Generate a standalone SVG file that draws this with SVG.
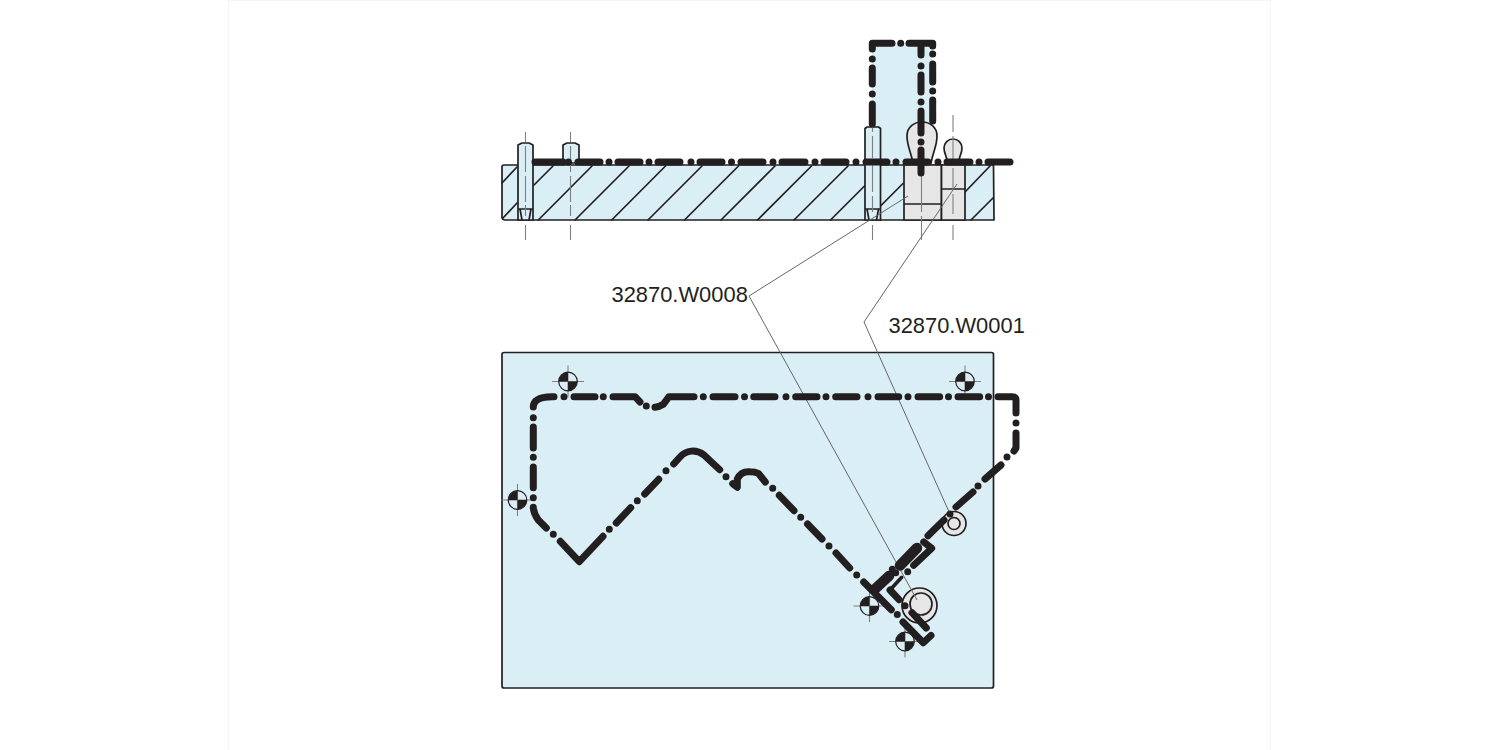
<svg xmlns="http://www.w3.org/2000/svg" width="1500" height="750" viewBox="0 0 1500 750">
<style>
.part{fill:#daeef6;stroke:#231f20;stroke-width:1.7;stroke-linejoin:round}
.grey{fill:#e6e6e6;stroke:#231f20;stroke-width:1.7;stroke-linejoin:round}
.ln{fill:none;stroke:#231f20;stroke-width:1.7}
.hatch{fill:none;stroke:#231f20;stroke-width:1.7;stroke-linecap:round}
.thick{fill:none;stroke:#231f20;stroke-width:7;stroke-linecap:round;stroke-linejoin:round}
.block{fill:none;stroke:#231f20;stroke-width:10.500;stroke-linecap:round}
.thin{fill:none;stroke:#231f20;stroke-width:3.6;stroke-linecap:round;stroke-linejoin:round}
.cl{fill:none;stroke:#808080;stroke-width:1.1}
.lead{fill:none;stroke:#666;stroke-width:1}
.tx{font-family:"Liberation Sans",Arial,sans-serif;font-size:21.9px;fill:#231f20}
</style>
<defs>
<g id="mark">
<path class="cl" d="M-16 0H16M0 -16V16"/>
<circle r="9.300" fill="none" stroke="#231f20" stroke-width="1.200"/>
<path d="M0 0V-9.300A9.300 9.300 0 0 0 -9.300 0ZM0 0V9.300A9.300 9.300 0 0 0 9.300 0Z" fill="#231f20"/>
</g>
</defs>
<rect width="1500" height="750" fill="#fff"/>
<path d="M228.500 0V750M1270.500 0V750M228 .5H1271" fill="none" stroke="#f5f5f5" stroke-width="1"/>

<g id="side-view">
<path style="fill:#daeef6;stroke:none" d="M872 43H932V165H872Z"/>
<path class="part" d="M504 165H993.500L994 220H505Q503 220 502 218V167Q502 165 504 165Z"/>
<path class="hatch" d="M502 183L517 167M503 218L517 203M534 185L553 166M538.300 220L592 166M575 220L629 166M611.700 220L665.500 166M648 220L702 166M684.500 220L738.500 166M721 220L775 166M757.500 220L811.500 166M794 220L848 166M830.500 220L864.500 186M881 205.500L903 183.500M965 192L990 166M971 220L993 198"/>
<path class="part" d="M518 220V145L522 143H529L533 145V220Z"/>
<path class="part" d="M563 163V145L567 143H575L579 145V163Z"/>
<path class="part" d="M865 220V128.500L867 127H878.500L880.500 128.500V220Z"/>
<path class="ln" d="M518 209H533M520 209L522 220M531 209L529 220M865 209H880.500M867 209L869 220M878.500 209L876.500 220"/>
<rect class="grey" x="904" y="165" width="37.500" height="55"/>
<rect class="grey" x="941.500" y="165" width="23.500" height="55"/>
<path class="ln" d="M904 204H941.500M941.500 189H965"/>
<path class="grey" d="M913 163C911 152 907 146 907 136C907 127 914 122 922 122C930 122 937 127 937 136C937 146 933 152 931 163Z"/>
<path class="grey" d="M947 163C948 157 944 155 944 148C944 143 948 139 953 139C958 139 962 143 962 148C962 155 958 157 959 163Z"/>
<path class="cl" d="M525.500 132V142M525.500 146V172M525.500 176V202M525.500 205V216M525.500 225V240M570.500 132V142M570.500 146V172M570.500 176V202M570.500 205V216M570.500 225V240M872.500 125V132M872.500 136V158M872.500 162V192M872.500 196V212M872.500 225V240M921.500 175V212M921.500 216V240M953 115V132M953 136V162M953 168V190M953 194V214M953 225V240"/>
</g>

<g id="plan-view">
<rect class="part" x="502" y="352.500" width="491.500" height="335.500" rx="2"/>
<g id="bore-large"><circle class="grey" cx="919.500" cy="605.500" r="17.500"/><circle class="grey" cx="921" cy="604" r="11"/></g>
<g id="bore-small"><circle class="grey" cx="954" cy="523.500" r="12"/><circle class="grey" cx="954" cy="523.500" r="6"/></g>
<use href="#mark" x="568" y="381.500"/>
<use href="#mark" x="965" y="381.500"/>
<use href="#mark" x="517.500" y="500"/>
<use href="#mark" x="869.500" y="606"/>
<use href="#mark" x="905" y="641.500"/>
</g>

<g id="connectors">
<path class="lead" d="M908 196L749 296L917 600M957 184L864 322L950 514"/>
<path class="thick" d="M535 162H563M568.500 162h0M578 162H600M609 162h0M618 162H640M649 162h0M658 162H680M691 162h0M700 162H722M731.500 162h0M741 162H763M773 162h0M782 162H805M815 162h0M824 162H846M856 162h0M866 162H887M896 162h0M906 162H928M938 162h0M947 162H970M979 162h0M988 162H1010"/>
<path class="thick" d="M872.300 124V104M872.300 94h0M872.300 84V68M872.300 59h0M872.300 49V43.300H892M900.700 43.300h0M909 43.300H932.700V46M932.700 54h0M932.700 64V82M932.700 91h0M932.700 100V121M921 43.300V55M921 66h0M921 75V92M921 102h0M921 111V133M921 142h0M921 150V173"/>
<path class="thick" d="M533.300 407Q533.300 397 552 396.700H554M564 396.700h0M574 396.700H595M603.300 396.700h0M613 396.700H635L640 402M646.300 406h0M655 407.300Q659 407 663.300 404.300L669 396.700H694M703.300 396.700h0M713 396.700H735M744.500 396.700h0M753.700 396.700H775M786 396.700h0M795.700 396.700H817M826 396.700h0M835.700 396.700H857M868 396.700h0M878 396.700H898.700M908 396.700h0M918 396.700H939.700M948.500 396.700h0M958 396.700H979.700M988.500 396.700h0M998 396.700H1012Q1016 396.700 1016 400V413M1016 423h0M1016 433V448L1014 451M1007 457h0M1001 465L985 479M978 486h0M973 492L956 507M950 514h0M944 520L928 535.700"/>
<path class="thick" d="M533.300 417.700h0M533.300 427V448M533.300 457.300h0M533.300 467V487.700M533.300 497.700h0M533.300 507.300V508Q534 514 538.300 520L546.300 528M553.300 534.300h0M560.300 541.300L579.300 561.700L603 536.300M609.300 529.300h0M616.300 523L630.700 507.700M637.300 500.700h0M644.700 494L658.700 479.300M666 470.700h0M673.700 464L680 457C686 450 696 449 704 455L719.700 469.700M726 476.700h0M732.700 483.700L737.300 487.300V479Q741 471 750 471.700Q755 471.700 758.300 473.300L765.300 482M772.700 488.300h0M779.300 495.300L794 510.700M800.700 517.300h0M807.500 524L822 539M829 546h0M836 553L849.700 568M856.700 575h0M863.700 582L891.300 609.700M897.300 614.500h0M903 622L923.300 642.700L931 635.500M905 605.700h0M912 612.700L926.300 628M890 590L899 599.700M892.300 569.300h0M895.700 572.700h0M907.700 571.700h0M913.700 565.300L931.700 548.300L923.700 542"/>
<path class="thin" d="M890 590L901.700 577.300"/>
<path class="block" d="M875 589L889 576M900 565.500L917 548"/>
</g>

<g id="label-w0008"><text class="tx" x="611.500" y="302">32870.W0008</text></g>
<g id="label-w0001"><text class="tx" x="888.500" y="332.500">32870.W0001</text></g>
</svg>
